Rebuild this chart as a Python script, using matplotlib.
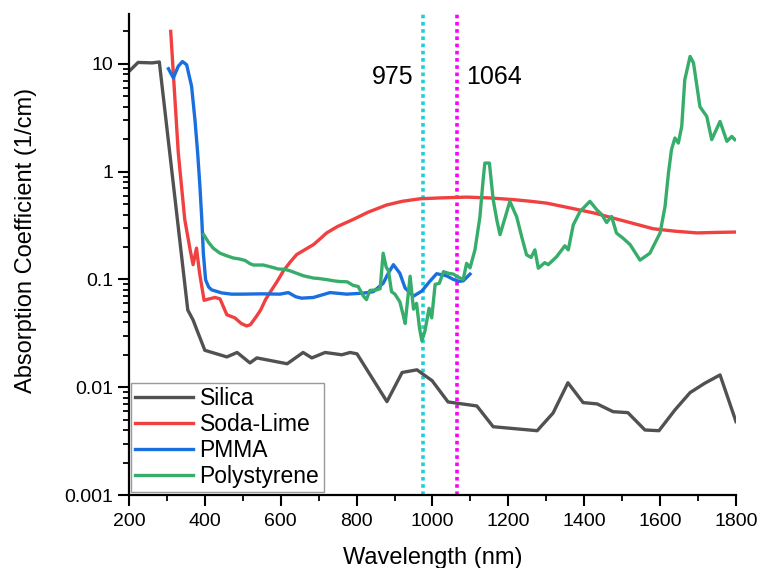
import matplotlib
matplotlib.use("Agg")
import matplotlib.pyplot as plt
import matplotlib.ticker as ticker

plt.rcParams.update({
    "font.family": ["Liberation Sans", "DejaVu Sans"],
    "axes.linewidth": 1.6,
    "xtick.major.width": 1.5,
    "ytick.major.width": 1.5,
    "xtick.minor.width": 1.3,
    "ytick.minor.width": 1.3,
})

# absorption spectra (wavelength in nm, coefficient in 1/cm)
silica_wl = [200, 224, 261, 280, 355, 369, 379, 400, 458, 485, 519, 537, 617, 659,
             682, 717, 761, 783, 801, 880, 920, 959, 999, 1041, 1117, 1160, 1276,
             1318, 1357, 1397, 1434, 1476, 1515, 1560, 1597, 1639, 1679, 1718, 1758, 1800]
silica_k = [8.5, 10.3, 10.2, 10.4, 0.052, 0.042, 0.034, 0.022, 0.0191, 0.0210, 0.0168,
            0.0187, 0.0165, 0.0210, 0.0187, 0.0210, 0.0200, 0.0210, 0.0204, 0.00735,
            0.0137, 0.0145, 0.0115, 0.0073, 0.0067, 0.0043, 0.00395, 0.00577, 0.0110,
            0.0072, 0.0070, 0.00593, 0.00581, 0.00401, 0.00395, 0.00615, 0.00891,
            0.0109, 0.0130, 0.0048]

sodalime_wl = [310, 330, 347, 361, 369, 378, 386, 398, 412, 427, 440, 458, 479, 496,
               510, 520, 537, 547, 560, 572, 590, 607, 625, 642, 665, 686, 705, 721,
               750, 791, 830, 879, 920, 967, 1020, 1090, 1150, 1213, 1260, 1301, 1350,
               1389, 1430, 1477, 1530, 1582, 1640, 1697, 1750, 1800]
sodalime_k = [20.0, 1.49, 0.36, 0.19, 0.137, 0.195, 0.115, 0.064, 0.066, 0.068, 0.066,
              0.047, 0.044, 0.039, 0.037, 0.038, 0.046, 0.052, 0.065, 0.076, 0.095,
              0.12, 0.145, 0.17, 0.19, 0.21, 0.24, 0.27, 0.31, 0.36, 0.42, 0.49, 0.53,
              0.56, 0.57, 0.58, 0.57, 0.55, 0.53, 0.51, 0.47, 0.44, 0.41, 0.37, 0.33,
              0.295, 0.28, 0.27, 0.273, 0.275]

pmma_wl = [304, 317, 330, 341, 352, 365, 374, 381, 387, 392, 396, 402, 410, 418, 444,
           470, 500, 550, 598, 620, 640, 655, 686, 710, 730, 774, 818, 844, 870, 884,
           897, 914, 928, 950, 972, 993, 1011, 1037, 1055, 1070, 1081, 1099]
pmma_k = [9.0, 7.4, 9.5, 10.5, 9.8, 6.2, 3.0, 1.5, 0.73, 0.36, 0.175, 0.099, 0.085,
          0.080, 0.075, 0.073, 0.073, 0.0735, 0.073, 0.0755, 0.069, 0.067, 0.068, 0.072,
          0.0755, 0.073, 0.0746, 0.077, 0.092, 0.115, 0.137, 0.114, 0.083, 0.070, 0.078,
          0.096, 0.113, 0.108, 0.100, 0.096, 0.097, 0.112]

ps_wl = [397, 410, 422, 440, 457, 475, 490, 506, 519, 528, 554, 576, 593, 611, 625,
         642, 660, 686, 700, 721, 740, 756, 775, 791, 804, 818, 826, 835, 853, 862,
         870, 878, 884, 892, 901, 914, 922, 928, 941, 950, 958, 966, 972, 980, 991,
         998, 1007, 1018, 1029, 1042, 1055, 1068, 1081, 1090, 1099, 1112, 1125, 1133,
         1138, 1150, 1160, 1170, 1178, 1192, 1204, 1222, 1235, 1248, 1260, 1270, 1279,
         1296, 1305, 1327, 1349, 1358, 1371, 1389, 1415, 1433, 1446, 1459, 1472, 1485,
         1503, 1521, 1547, 1573, 1600, 1613, 1622, 1630, 1639, 1648, 1657, 1665, 1679,
         1688, 1705, 1723, 1736, 1758, 1776, 1789, 1797]
ps_k = [0.26, 0.22, 0.195, 0.175, 0.166, 0.158, 0.155, 0.150, 0.140, 0.136, 0.136,
        0.130, 0.125, 0.124, 0.12, 0.114, 0.108, 0.103, 0.102, 0.0996, 0.097, 0.0955,
        0.095, 0.088, 0.086, 0.070, 0.065, 0.079, 0.080, 0.082, 0.175, 0.13, 0.12,
        0.077, 0.073, 0.062, 0.048, 0.039, 0.107, 0.053, 0.060, 0.035, 0.027, 0.033,
        0.054, 0.044, 0.090, 0.092, 0.118, 0.114, 0.112, 0.105, 0.100, 0.141, 0.128,
        0.188, 0.38, 0.8, 1.2, 1.2, 0.55, 0.35, 0.26, 0.38, 0.53, 0.38, 0.25, 0.169,
        0.16, 0.188, 0.127, 0.143, 0.137, 0.162, 0.205, 0.188, 0.32, 0.427, 0.53, 0.443,
        0.40, 0.337, 0.384, 0.269, 0.24, 0.21, 0.151, 0.175, 0.27, 0.475, 0.97, 1.6,
        2.05, 1.84, 2.63, 7.1, 11.7, 10.2, 4.0, 3.25, 1.98, 2.92, 1.91, 2.12, 1.98]

laser_lines = [975, 1064]
laser_colors = ["#1ECFD6", "#FF00FF"]

fig = plt.figure(figsize=(7.6, 5.68), dpi=100)
ax = fig.add_axes([0.1697, 0.1285, 0.7987, 0.8469])

lw = 2.4
ax.plot(silica_wl, silica_k, color="#515151", lw=lw, label="Silica")
ax.plot(sodalime_wl, sodalime_k, color="#F14040", lw=lw, label="Soda-Lime")
ax.plot(pmma_wl, pmma_k, color="#1A6FDF", lw=lw, label="PMMA")
ax.plot(ps_wl, ps_k, color="#37AD6B", lw=lw, label="Polystyrene")

for wl, c in zip(laser_lines, laser_colors):
    ax.axvline(wl, color=c, lw=2.6, linestyle=(0, (1, 1)), zorder=1)

ax.text(950, 7.6, "975", fontsize=18, ha="right", va="center")
ax.text(1090, 7.6, "1064", fontsize=18, ha="left", va="center")

ax.set_yscale("log")
ax.set_xlim(200, 1800)
ax.set_ylim(0.001, 29)

ax.xaxis.set_major_locator(ticker.MultipleLocator(200))
ax.xaxis.set_minor_locator(ticker.MultipleLocator(100))
ax.yaxis.set_major_locator(ticker.FixedLocator([0.001, 0.01, 0.1, 1, 10]))
ax.yaxis.set_major_formatter(ticker.FixedFormatter(["0.001", "0.01", "0.1", "1", "10"]))
ax.yaxis.set_minor_locator(ticker.LogLocator(base=10, subs=range(2, 10)))
ax.yaxis.set_minor_formatter(ticker.NullFormatter())

ax.tick_params(which="major", direction="out", length=8, labelsize=14)
ax.tick_params(axis="x", which="major", pad=5)
ax.tick_params(which="minor", direction="out", length=4.5)
for side in ["top", "right"]:
    ax.spines[side].set_visible(False)

ax.set_xlabel("Wavelength (nm)", fontsize=17, labelpad=12)
ax.set_ylabel("Absorption Coefficient (1/cm)", fontsize=17)
ax.yaxis.set_label_coords(-0.151, 0.53)

leg = ax.legend(loc="lower left", bbox_to_anchor=(0.003, 0.006), borderaxespad=0,
                fontsize=16.5, handlelength=2.5, handletextpad=0.3, labelspacing=0.12,
                borderpad=0.2, fancybox=False, framealpha=1)
leg.get_frame().set_edgecolor("#999999")
leg.get_frame().set_linewidth(1.0)

fig.savefig("out.png", dpi=100)
